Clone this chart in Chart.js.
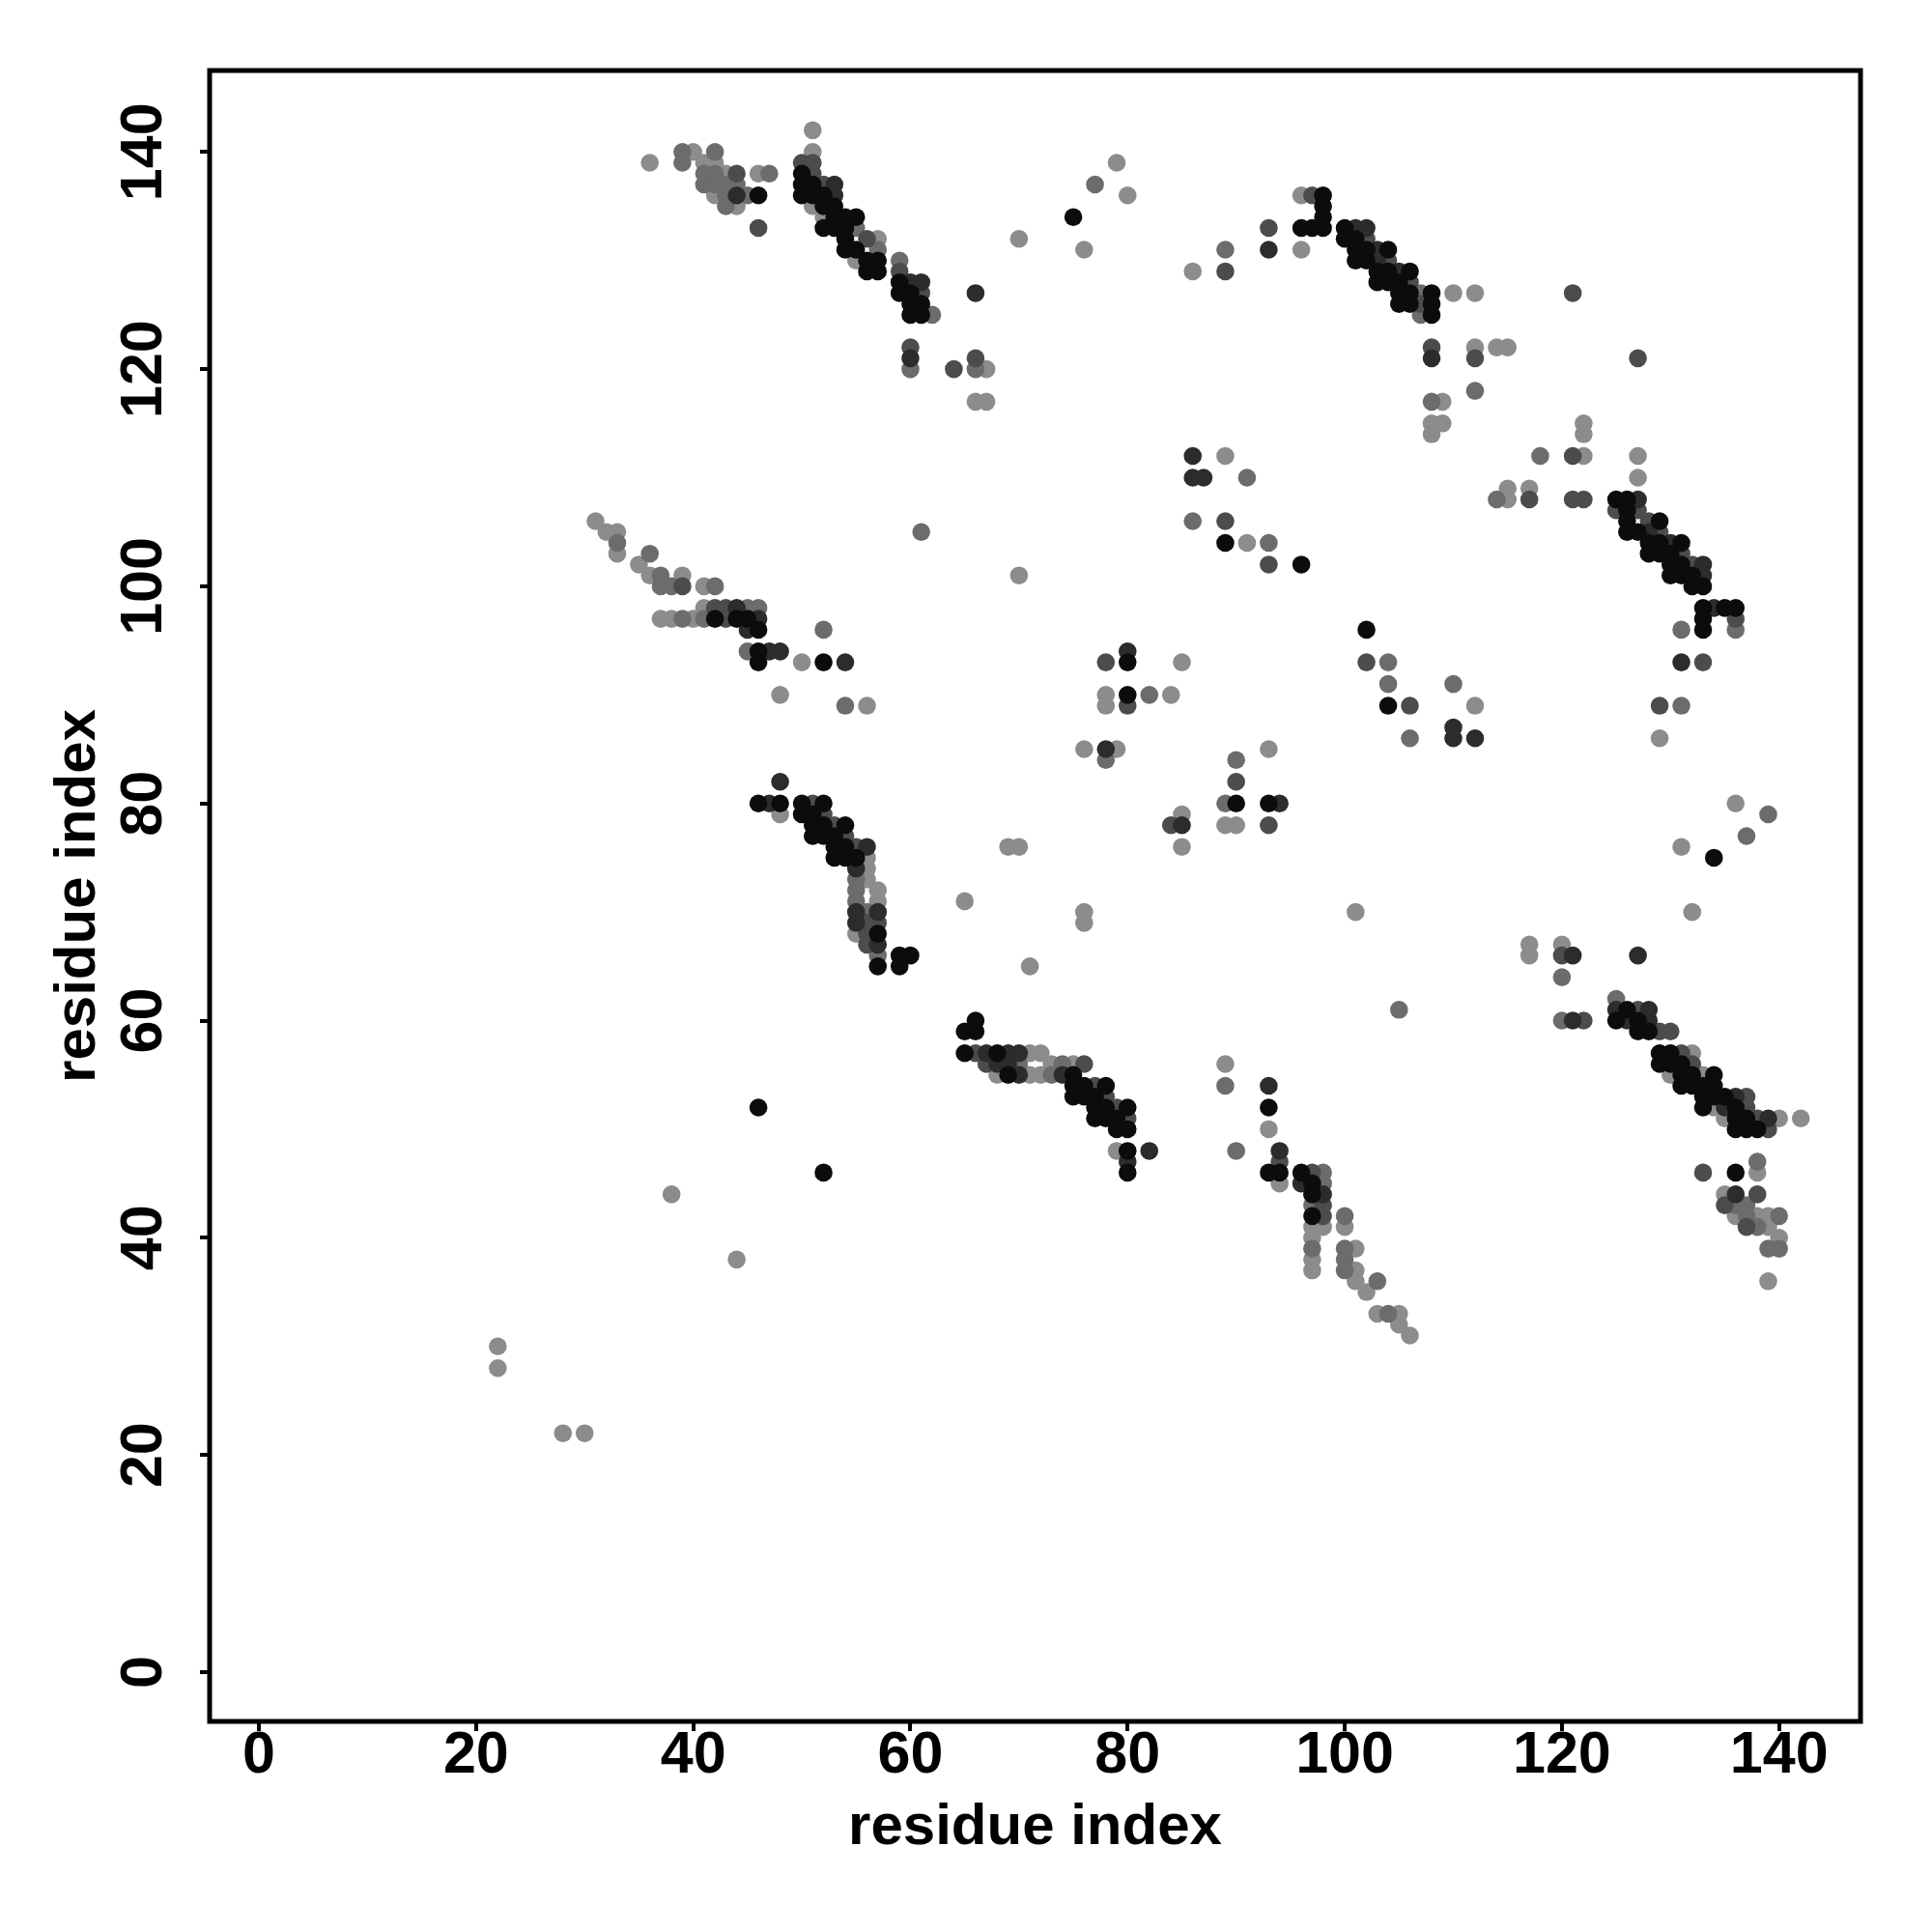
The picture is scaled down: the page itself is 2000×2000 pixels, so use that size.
<!DOCTYPE html>
<html>
<head>
<meta charset="utf-8">
<script src="https://cdn.jsdelivr.net/npm/chart.js@4.4.1/dist/chart.umd.min.js"></script>
<style>
    body { margin: 0; background: #fff; }
    #wrap { width: 2000px; height: 2000px; }
</style>
</head>
<body>
<div id="wrap"><canvas id="chart" width="2000" height="2000"></canvas></div>
<script>
"use strict"

// contact map: [residue i, residue j] pairs, grouped by grey level

// axis ticks
const xTicks = [0, 20, 40, 60, 80, 100, 120, 140];
const yTicks = [0, 20, 40, 60, 80, 100, 120, 140];
const axisMin = -4.54;
const axisMax = 147.5;

const contactsBlack = [
    [46,136],[50,138],[50,137],[50,136],[51,137],[51,136],[52,136],[52,135],[53,135],[52,133],[53,133],[53,134],
    [54,134],[55,134],[54,133],[54,132],[54,131],[55,131],[56,130],[56,129],[57,130],[57,129],[59,128],[59,127],
    [60,127],[60,126],[61,126],[60,125],[61,125],
    [75,134],[89,104],[96,102],
    [98,136],[98,135],[98,134],[96,133],[97,133],[98,133],[100,133],[100,132],[101,132],[101,131],[102,131],
    [104,131],[101,130],[102,130],[103,129],[104,129],[106,129],[103,128],[104,128],[105,128],[105,127],[106,127],
    [108,127],[105,126],[106,126],[108,126],[108,125],
    [125,108],[126,108],[126,107],[126,106],[129,106],[126,105],[127,105],[128,104],[129,104],[131,104],[128,103],
    [129,103],[130,103],[130,102],[131,102],[130,101],[131,101],[132,101],[132,100],[133,100],[133,98],[135,98],
    [136,98],[133,97],[133,96],
    [42,97],[44,97],[45,97],[46,96],[46,94],[46,93],[52,93],
    [46,80],[48,80],[50,80],[52,80],[50,79],[51,79],[51,78],[52,78],[54,78],[51,77],[52,77],[53,77],[53,76],
    [54,76],[53,75],[54,75],[55,75],[57,68],[57,65],[59,66],[60,66],[59,65],
    [66,60],[65,59],[66,59],[65,57],[68,57],[69,55],[75,55],[75,54],[76,54],[78,54],[75,53],[76,53],[77,53],
    [77,52],[78,52],[80,52],[77,51],[78,51],[79,51],[79,50],[80,50],[80,48],[80,46],
    [93,52],[93,46],[94,46],[96,46],[97,45],[97,44],[97,42],[102,96],[104,89],[80,93],[80,90],[90,80],[93,80],
    [134,75],[126,61],[125,60],[127,60],[127,59],[128,59],[129,57],[130,57],[129,56],[130,56],[131,56],[131,55],
    [132,55],[134,55],[131,54],[132,54],[133,54],[134,54],[133,53],[134,53],[135,53],[133,52],[136,52],[136,51],
    [137,51],[136,50],[137,50],[138,50],
    [136,46],[46,52],[52,46]
];

const contactsDark = [
    [44,136],[53,137],[53,136],[60,128],[61,128],[60,121],
    [66,127],[93,131],[86,112],[86,110],[87,110],
    [101,133],[102,133],[103,131],[103,130],[105,129],[108,121],
    [127,108],[128,105],[130,104],[133,102],[133,101],[134,98],[131,93],[110,87],[110,86],[112,86],
    [44,98],[46,97],[45,96],[47,94],[48,94],[54,93],
    [48,82],[47,80],[56,76],[55,74],[55,70],[57,70],[55,69],[57,67],
    [67,57],[69,57],[70,57],[68,56],[69,56],[70,55],[74,55],[82,48],[80,47],
    [93,54],[94,48],[96,45],[98,44],[80,94],[78,85],[94,80],[85,78],
    [121,66],[127,66],[121,60],[125,61],[128,61],[126,60],[128,60],[136,53],[135,52],[139,51],
    [136,44]
];

const contactsDarkMid = [
    [44,138],[46,133],[50,139],[51,139],[51,138],[52,137],[56,132],[59,129],[61,127],[60,122],
    [64,120],[66,121],[89,129],[93,133],[89,106],[93,102],
    [97,136],[102,132],[104,130],[106,128],[107,126],[121,127],[108,122],[112,121],[121,112],[117,108],
    [121,108],[122,108],
    [127,121],[125,107],[127,107],[128,106],[129,105],[131,103],[132,102],[136,97],[133,93],[129,89],
    [39,100],[42,98],[43,98],[43,97],
    [51,80],[52,79],[53,78],[54,77],[55,76],[56,69],[57,69],[56,68],[56,67],
    [66,57],[67,56],[76,56],[77,54],[78,53],[79,52],[80,51],
    [94,47],[97,46],[98,43],[98,42],[102,93],[106,89],[78,93],[80,89],[90,82],[93,78],[84,78],
    [120,66],[122,60],[127,61],[129,59],[130,59],[131,57],[132,56],[137,53],[137,52],[138,51],[139,50],
    [133,46],[138,44],[135,43],[137,41]
];

const contactsMid = [
    [39,140],[39,139],[42,140],[41,138],[41,137],[42,138],[42,137],[43,137],[43,136],[43,135],[44,137],[45,136],
    [47,138],[55,133],[57,131],[59,130],[62,125],[60,120],
    [77,137],[66,120],[61,105],[89,131],[91,110],[86,106],[93,104],
    [107,127],[107,125],[112,118],[108,117],[118,112],[114,108],
    [136,96],[131,96],[131,89],[110,91],
    [33,104],[36,103],[37,101],[37,100],[38,100],[42,100],[45,98],[46,98],[39,97],[41,97],[45,94],[52,96],[54,89],
    [55,73],[55,72],[55,71],[56,70],[57,66],
    [70,56],[74,56],[73,55],
    [89,54],[90,48],[98,46],[98,45],[97,43],[97,39],[100,42],[100,39],[100,38],[100,37],[103,36],[104,33],
    [104,93],[104,91],[106,86],[82,90],[78,84],[90,84],[89,80],[105,61],
    [139,79],[137,77],[120,64],[120,60],[125,62],
    [138,47],[136,43],[137,43],[137,42],[140,42],[138,41],[139,39],[140,39]
];

const contactsLight = [
    [36,139],[40,140],[41,139],[42,139],[43,138],[44,135],[42,136],[46,138],[51,142],[51,140],[51,135],[52,134],
    [55,130],[57,132],
    [79,139],[80,136],[70,132],[76,131],[67,120],[66,117],[67,117],[70,101],[86,129],[96,131],[89,112],[91,104],
    [96,136],[110,127],[112,127],[112,122],[114,122],[115,122],[109,117],[108,115],[109,115],[108,114],[122,115],
    [122,114],[122,112],[115,109],[115,108],[117,109],
    [127,112],[127,110],[129,86],[112,89],
    [31,106],[32,105],[33,105],[33,103],[35,102],[36,101],[39,101],[41,100],[41,98],[37,97],[38,97],[40,97],
    [50,93],[48,90],[56,89],
    [48,79],[56,75],[56,74],[56,73],[57,72],[57,71],[55,68],[69,76],[70,76],[65,71],[71,65],
    [71,57],[72,57],[73,56],[75,56],[68,55],[71,55],[72,55],[79,48],
    [89,56],[93,50],[94,45],[97,41],[98,41],[97,40],[97,38],[97,37],[100,41],[101,39],[101,37],[101,36],[102,35],
    [103,33],[105,33],[105,32],[106,31],[85,93],[78,90],[84,90],[78,89],[76,85],[79,85],[93,85],[89,78],[90,78],
    [85,79],[85,76],[76,70],[76,69],[101,70],
    [136,80],[131,76],[132,70],[117,67],[117,66],[120,67],[132,57],[130,55],[133,55],[134,52],[135,51],[140,51],
    [142,51],
    [138,46],[135,44],[136,42],[138,42],[139,42],[139,41],[140,40],[139,36],
    [22,30],[22,28],[28,22],[30,22],[38,44],[44,38]
];

// black first so it is drawn on top
const groups = [
    { pts: contactsBlack, color: "#0c0c0c" },
    { pts: contactsDark, color: "#2c2c2c" },
    { pts: contactsDarkMid, color: "#4c4c4c" },
    { pts: contactsMid, color: "#6c6c6c" },
    { pts: contactsLight, color: "#8c8c8c" }
];

const fontFamily = "'Liberation Sans', Arial, Helvetica, sans-serif";
Chart.defaults.font.family = fontFamily;
Chart.defaults.color = "#000";

// frame around the plot + rotated y tick labels
const framePlugin = {
    id: "frame",
    afterDraw(chart) {
        const { ctx, chartArea: a } = chart;
        ctx.save();
        ctx.lineWidth = 5;
        ctx.strokeStyle = "#000";
        ctx.strokeRect(a.left, a.top, a.right - a.left, a.bottom - a.top);

        const yScale = chart.scales.y;
        ctx.fillStyle = "#000";
        ctx.font = "bold 61px " + fontFamily;
        ctx.textAlign = "center";
        ctx.textBaseline = "middle";
        yTicks.forEach(v => {
            ctx.save();
            ctx.translate(150, yScale.getPixelForValue(v));
            ctx.rotate(-Math.PI / 2);
            ctx.fillText(String(v), 0, 0);
            ctx.restore();
        });
        ctx.restore();
    }
};

const tickGrid = {
    display: true,
    drawOnChartArea: false,
    drawTicks: true,
    tickLength: 10,
    lineWidth: 4,
    color: "#000"
};

let config = {
    type: "scatter",
    data: {
        datasets: groups.map(g => ({
            data: g.pts.map(p => ({ x: p[0], y: p[1] })),
            backgroundColor: g.color,
            borderWidth: 0,
            pointRadius: 9.3,
            pointHoverRadius: 9.3
        }))
    },
    options: {
        responsive: false,
        animation: false,
        events: [],
        layout: { padding: { top: 73, right: 74, left: 0, bottom: 0 } },
        plugins: { legend: { display: false }, tooltip: { enabled: false } },
        scales: {
            x: {
                type: "linear",
                min: axisMin,
                max: axisMax,
                afterBuildTicks: s => { s.ticks = xTicks.map(v => ({ value: v })); },
                afterFit: s => { s.height = 218; },
                grid: tickGrid,
                border: { display: false },
                ticks: {
                    font: { size: 61, weight: "bold", lineHeight: 1 },
                    color: "#000",
                    padding: -4,
                    maxRotation: 0,
                    autoSkip: false
                },
                title: {
                    display: true,
                    text: "residue index",
                    color: "#000",
                    font: { size: 60, weight: "bold", lineHeight: 1 },
                    padding: { top: 0, bottom: 78 }
                }
            },
            y: {
                type: "linear",
                min: axisMin,
                max: axisMax,
                afterBuildTicks: s => { s.ticks = yTicks.map(v => ({ value: v })); },
                afterFit: s => { s.width = 217; },
                grid: tickGrid,
                border: { display: false },
                ticks: { display: false },
                title: {
                    display: true,
                    text: "residue index",
                    color: "#000",
                    font: { size: 60, weight: "bold", lineHeight: 1 },
                    padding: { top: 51, bottom: 0 }
                }
            }
        }
    },
    plugins: [framePlugin]
};

let ctx = document.querySelector("#chart");
let contactChart = new Chart(ctx, config);
</script>
</body>
</html>
